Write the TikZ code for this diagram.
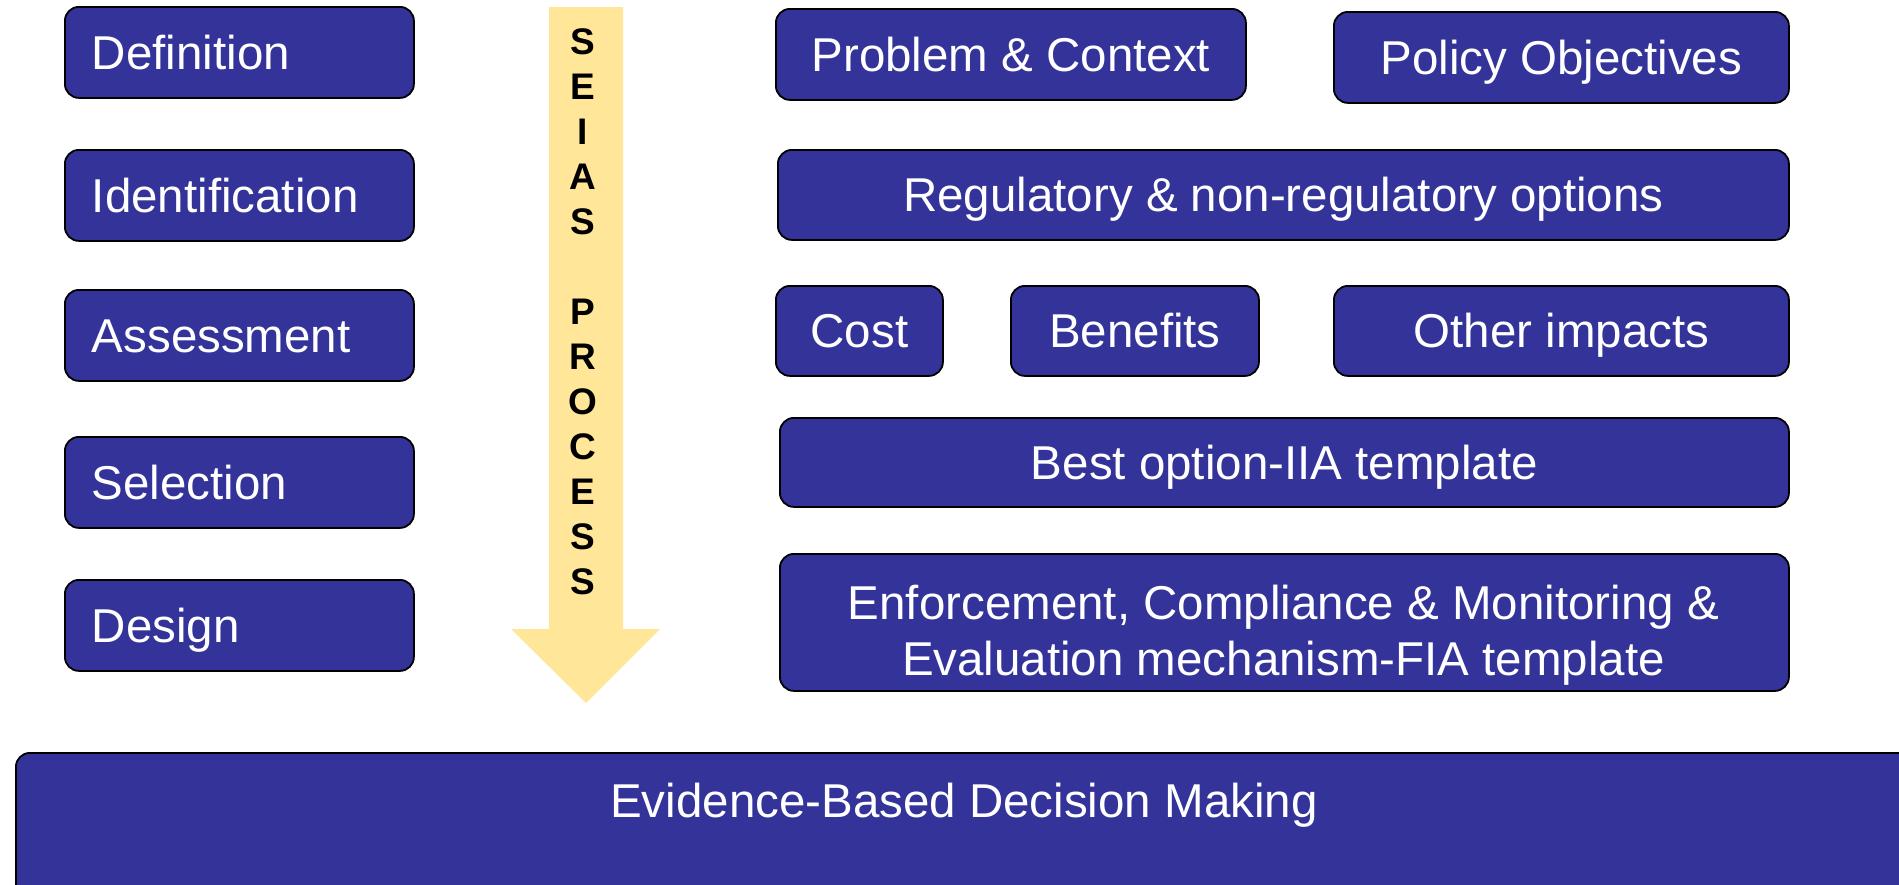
\documentclass[tikz,border=0pt]{standalone}
\usepackage{fontspec}
\setmainfont{Liberation Sans}
\definecolor{boxblue}{RGB}{51,51,153}
\definecolor{arrowyellow}{RGB}{255,230,153}
\begin{document}
\begin{tikzpicture}[x=1pt,y=-1pt,
  boxtext/.style={text=white, font=\fontsize{47.5}{56}\selectfont, inner sep=0pt,
    text height=34pt, text depth=0pt},
  box/.style={boxtext, draw=black, line width=1.8pt, fill=boxblue, rounded corners=14pt,
    anchor=north west, align=center},
  stagebox/.style={box, minimum height=91pt, text width=295pt, inner xsep=27pt, align=left},
  letters/.style={font=\fontsize{37}{45}\selectfont\bfseries, align=center, inner sep=0pt}
]
\useasboundingbox (0,0) rectangle (1899,884);
\begin{scope}
\clip (0,0) rectangle (1899,884);
% stages
\node[stagebox] (def) at (64,6) {Definition};
\node[stagebox] (ide) at (64,149) {Identification};
\node[stagebox] (ass) at (64,289) {Assessment};
\node[stagebox] (sel) at (64,436) {Selection};
\node[stagebox] (des) at (64,579) {Design};
% arrow
\fill[arrowyellow] (549,7) -- (623,7) -- (623,629) -- (660,629) -- (586,703) -- (511,629) -- (549,629) -- cycle;
\node[letters] (seias) at (583,312) {S\\E\\I\\A\\S\\\mbox{}\\P\\R\\O\\C\\E\\S\\S};
% right boxes
\node[box, minimum width=470pt, minimum height=91pt] (pc) at (775,8) {Problem \& Context};
\node[box, minimum width=455pt, minimum height=91pt] (po) at (1333,11) {Policy Objectives};
\node[box, minimum width=1011pt, minimum height=90pt] (reg) at (777,149) {Regulatory \& non-regulatory options};
\node[box, minimum width=167pt, minimum height=90pt] (cost) at (775,285) {Cost};
\node[box, minimum width=248pt, minimum height=90pt] (ben) at (1010,285) {Benefits};
\node[box, minimum width=455pt, minimum height=90pt] (oth) at (1333,285) {Other impacts};
\node[box, minimum width=1009pt, minimum height=89pt] (best) at (779,417) {Best option-IIA template};
\node[box, minimum width=1009pt, minimum height=137pt] (enf) at (779,553) {};
\node[boxtext] (enfa) at (1283.5,602) {Enforcement, Compliance \& Monitoring \&};
\node[boxtext] (enfb) at (1283.5,658) {Evaluation mechanism-FIA template};
% bottom
\node[box, minimum width=1900pt, minimum height=150pt] (ebdm) at (15,752) {};
\node[boxtext] (ebdmtext) at (964,800) {Evidence-Based Decision Making};
\end{scope}
\end{tikzpicture}
\end{document}
